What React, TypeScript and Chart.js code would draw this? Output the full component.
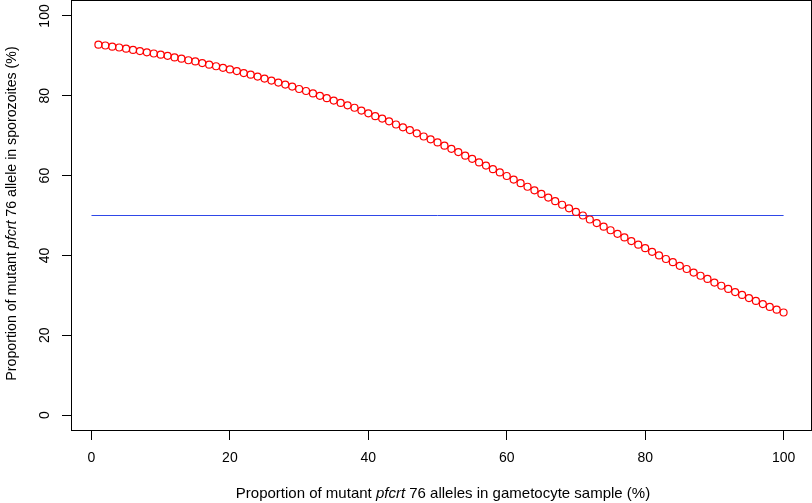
import React, { useEffect, useRef } from "react";
import { Chart, registerables } from "chart.js";

Chart.register(...registerables);

// Proportion of mutant pfcrt 76 alleles in gametocyte sample (%)
const gametocyteMutantPct = [
  1, 2, 3, 4, 5, 6, 7, 8, 9, 10,
  11, 12, 13, 14, 15, 16, 17, 18, 19, 20,
  21, 22, 23, 24, 25, 26, 27, 28, 29, 30,
  31, 32, 33, 34, 35, 36, 37, 38, 39, 40,
  41, 42, 43, 44, 45, 46, 47, 48, 49, 50,
  51, 52, 53, 54, 55, 56, 57, 58, 59, 60,
  61, 62, 63, 64, 65, 66, 67, 68, 69, 70,
  71, 72, 73, 74, 75, 76, 77, 78, 79, 80,
  81, 82, 83, 84, 85, 86, 87, 88, 89, 90,
  91, 92, 93, 94, 95, 96, 97, 98, 99, 100,
];

// Proportion of mutant pfcrt 76 allele in sporozoites (%)
const sporozoiteMutantPct = [
  92.8, 92.6, 92.3, 92.1, 91.8, 91.5, 91.2, 90.9, 90.6, 90.3,
  90.0, 89.6, 89.3, 88.9, 88.6, 88.2, 87.8, 87.4, 87.0, 86.6,
  86.2, 85.7, 85.3, 84.8, 84.3, 83.8, 83.3, 82.8, 82.3, 81.7,
  81.2, 80.6, 80.0, 79.4, 78.8, 78.2, 77.6, 77.0, 76.3, 75.6,
  74.9, 74.3, 73.6, 72.8, 72.1, 71.4, 70.6, 69.8, 69.1, 68.3,
  67.5, 66.7, 65.9, 65.0, 64.2, 63.3, 62.5, 61.6, 60.8, 59.9,
  59.0, 58.1, 57.2, 56.3, 55.4, 54.5, 53.6, 52.7, 51.8, 50.9,
  50.0, 49.0, 48.1, 47.2, 46.3, 45.4, 44.5, 43.6, 42.7, 41.8,
  40.9, 40.0, 39.1, 38.3, 37.4, 36.6, 35.7, 34.9, 34.1, 33.2,
  32.4, 31.6, 30.8, 30.1, 29.3, 28.6, 27.8, 27.1, 26.4, 25.7,
];

// Horizontal reference line at 50 %
const referenceLineX = [0, 100];
const referenceLineY = [50, 50];

const xTicks = [0, 20, 40, 60, 80, 100];
const yTicks = [0, 20, 40, 60, 80, 100];

const xTitleParts: [string, boolean][] = [
  ["Proportion of mutant ", false],
  ["pfcrt", true],
  [" 76 alleles in gametocyte sample (%)", false],
];
const yTitleParts: [string, boolean][] = [
  ["Proportion of mutant ", false],
  ["pfcrt", true],
  [" 76 allele in sporozoites (%)", false],
];

const FAMILY = "'Liberation Sans', Arial, Helvetica, sans-serif";
const TICK_SIZE = 14;

function drawParts(
  ctx: CanvasRenderingContext2D,
  parts: [string, boolean][],
  cx: number,
  cy: number,
  size: number
) {
  const fonts = parts.map(([, it]) => `${it ? "italic " : ""}${size}px ${FAMILY}`);
  const widths = parts.map(([t], i) => {
    ctx.font = fonts[i];
    return ctx.measureText(t).width;
  });
  const total = widths.reduce((a, b) => a + b, 0);
  let x = cx - total / 2;
  ctx.textAlign = "left";
  ctx.textBaseline = "middle";
  ctx.fillStyle = "#000";
  parts.forEach(([t], i) => {
    ctx.font = fonts[i];
    ctx.fillText(t, x, cy);
    x += widths[i];
  });
}

const framePlugin = {
  id: "rFrame",
  afterDraw(chart: any) {
    const { ctx, chartArea: a } = chart;
    ctx.save();
    ctx.strokeStyle = "#000";
    ctx.lineWidth = 1;
    ctx.strokeRect(a.left + 0.5, a.top + 0.5, a.right - a.left, a.bottom - a.top - 1);
    const cx = (a.left + a.right) / 2 + 2;
    drawParts(ctx, xTitleParts, cx, 494, 15);
    const cy = (a.top + a.bottom) / 2 - 2;
    ctx.translate(12, cy);
    ctx.rotate(-Math.PI / 2);
    drawParts(ctx, yTitleParts, 0, 0, 14.2);
    ctx.restore();
  },
};

export default function App() {
  const ref = useRef<HTMLCanvasElement | null>(null);

  useEffect(() => {
    if (!ref.current) return;
    const points = gametocyteMutantPct.map((x, i) => ({ x, y: sporozoiteMutantPct[i] }));
    const line = referenceLineX.map((x, i) => ({ x, y: referenceLineY[i] }));
    const chart = new Chart(ref.current, {
      type: "scatter",
      data: {
        datasets: [
          {
            data: points,
            showLine: false,
            pointStyle: "circle",
            pointRadius: 3.5,
            pointBorderWidth: 1.2,
            pointBorderColor: "#ff0000",
            pointBackgroundColor: "rgba(0,0,0,0)",
            borderColor: "#ff0000",
            backgroundColor: "rgba(0,0,0,0)",
          } as any,
          {
            data: line,
            showLine: true,
            pointRadius: 0,
            borderColor: "#2f48e8",
            borderWidth: 1,
          } as any,
        ],
      },
      options: {
        responsive: false,
        animation: false,
        devicePixelRatio: 1,
        layout: { autoPadding: false, padding: { top: 0, right: 1, left: 0, bottom: 0 } },
        plugins: {
          legend: { display: false },
          tooltip: { enabled: false },
          title: { display: false },
        },
        scales: {
          x: {
            type: "linear",
            min: -2.96,
            max: 103.96,
            border: { display: false },
            grid: { drawOnChartArea: false, drawTicks: true, tickLength: 9, color: "#000", lineWidth: 1 },
            ticks: {
              color: "#000",
              font: { family: FAMILY, size: TICK_SIZE },
              padding: 10,
              maxRotation: 0,
              autoSkip: false,
            },
            afterBuildTicks: (s: any) => {
              s.ticks = xTicks.map((v) => ({ value: v }));
            },
            afterFit: (s: any) => {
              s.height = 72;
              s.paddingLeft = 0;
              s.paddingRight = 0;
              s.paddingTop = 0;
              s.paddingBottom = 0;
            },
          },
          y: {
            type: "linear",
            min: -4,
            max: 104,
            border: { display: false },
            grid: { drawOnChartArea: false, drawTicks: true, tickLength: 9, color: "#000", lineWidth: 1 },
            ticks: {
              color: "#000",
              font: { family: FAMILY, size: TICK_SIZE },
              padding: 5,
              minRotation: 90,
              maxRotation: 90,
              crossAlign: "center",
              autoSkip: false,
            },
            afterBuildTicks: (s: any) => {
              s.ticks = yTicks.map((v) => ({ value: v }));
            },
            afterFit: (s: any) => {
              s.width = 71;
              s.paddingLeft = 0;
              s.paddingRight = 0;
              s.paddingTop = 0;
              s.paddingBottom = 0;
            },
          },
        },
      } as any,
      plugins: [framePlugin],
    });
    return () => chart.destroy();
  }, []);

  return (
    <div style={{ position: "absolute", left: 0, top: 0, width: 812, height: 503, background: "#fff" }}>
      <canvas ref={ref} width={812} height={503} style={{ display: "block" }} />
    </div>
  );
}
